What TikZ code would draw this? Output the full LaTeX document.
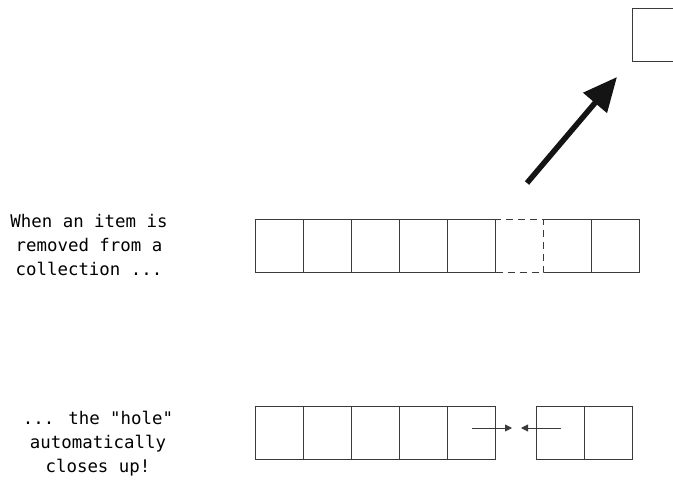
\documentclass[tikz,border=0pt]{standalone}
\usepackage{fontspec}
\newfontfamily\monofont{DejaVu Sans Mono}
\usetikzlibrary{arrows.meta}
\definecolor{edge}{HTML}{3A3A3A}
\tikzset{
  cell/.style={draw=edge, line width=1pt, minimum width=48pt, minimum height=53.5pt, inner sep=0pt, outer sep=0pt, anchor=north west},
  holecell/.style={cell, fill=white, dash pattern=on 7pt off 5pt},
  caption/.style={font=\monofont\fontsize{17.4}{24}\selectfont, align=center, text=black, inner sep=0pt},
  small arrow/.style={draw=edge, line width=0.9pt, -{Triangle[length=7pt,width=7pt]}},
  big arrow/.style={draw=black!92, line width=5.5pt, -{Triangle[length=34pt,width=30pt]}}
}
\begin{document}
\begin{tikzpicture}[x=1pt, y=-1pt]
\useasboundingbox (0,0) rectangle (673,482);
% removed item
\node[cell] (out) at (632,8) {};
% top row
\node[cell] (t1) at (255,219) {};
\node[cell] (t2) at (303.1,219) {};
\node[cell] (t3) at (351.2,219) {};
\node[cell] (t4) at (399.3,219) {};
\node[cell] (t5) at (447.4,219) {};
\node[cell] (t7) at (543.6,219) {};
\node[cell] (t8) at (591.7,219) {};
\node[holecell] (t6) at (495.5,219) {};
% bottom row
\node[cell] (b1) at (255,406) {};
\node[cell] (b2) at (303,406) {};
\node[cell] (b3) at (351,406) {};
\node[cell] (b4) at (399,406) {};
\node[cell] (b5) at (447,406) {};
\node[cell] (b6) at (536,406) {};
\node[cell] (b7) at (584,406) {};
% captions
\node[caption] (c1) at (89,245) {When an item is\\removed from a\\collection ...};
\node[caption] (c2) at (98,444) {... the "hole"\\automatically\\closes up!};
% arrows
\coordinate (bigtail) at (527,183);
\coordinate (bigtip) at (617,77);
\draw[big arrow] (bigtail) -- (bigtip);
\coordinate (la) at (472,428);
\coordinate (lb) at (512,428);
\coordinate (ra) at (561,428);
\coordinate (rb) at (521,428);
\draw[small arrow] (la) -- (lb);
\draw[small arrow] (ra) -- (rb);
\end{tikzpicture}
\end{document}
